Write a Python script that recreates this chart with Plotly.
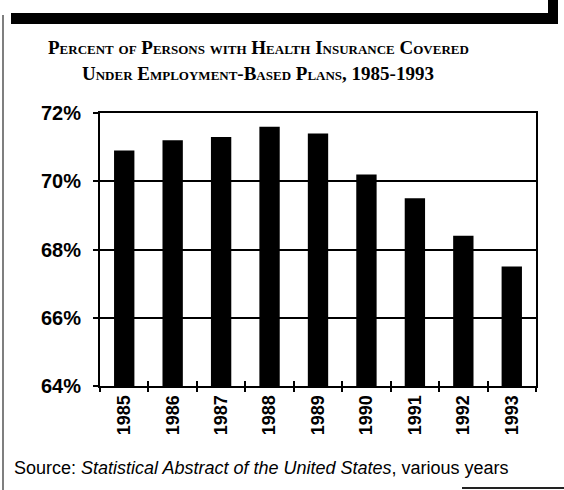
import plotly.graph_objects as go

years = ["1985", "1986", "1987", "1988", "1989", "1990", "1991", "1992", "1993"]
pct_employment = [70.9, 71.2, 71.3, 71.6, 71.4, 70.2, 69.5, 68.4, 67.5]
y_ticks = [64, 66, 68, 70, 72]
y_tick_labels = ["64%", "66%", "68%", "70%", "72%"]

title_line1 = "Percent of Persons with Health Insurance Covered"
title_line2 = "Under Employment-Based Plans, 1985-1993"
source_html = "Source: <i>Statistical Abstract of the United States</i>, various years"

W, H = 564, 490
L, R, T, B = 100, 28, 113, 104
pw, ph = W - L - R, H - T - B

def px_x(px):
    return (px - L) / pw

def px_y(py):
    return (H - B - py) / ph

fig = go.Figure()
fig.add_trace(go.Bar(x=years, y=pct_employment, marker=dict(color="black", line=dict(width=0)),
                     showlegend=False, hoverinfo="x+y"))
# invisible trace to carry the inside half of crossing x ticks
fig.add_trace(go.Scatter(x=years, y=pct_employment, xaxis="x2", mode="markers",
                         marker=dict(opacity=0), showlegend=False, hoverinfo="skip"))

fig.update_layout(
    width=W, height=H,
    margin=dict(l=L, r=R, t=T, b=B),
    paper_bgcolor="white", plot_bgcolor="white",
    bargap=0.58,
    xaxis=dict(type="category", range=[-0.5, 8.5], tickangle=-90,
               tickfont=dict(family="Liberation Sans, Arial, sans-serif", size=18, color="black", weight="bold"),
               showline=True, linecolor="black", linewidth=2, mirror=True,
               ticks="outside", ticklen=4, tickwidth=2, tickcolor="black",
               tickson="boundaries", showgrid=False, zeroline=False),
    xaxis2=dict(type="category", overlaying="x", side="bottom", range=[-0.5, 8.5],
                ticks="inside", ticklen=5, tickwidth=2, tickcolor="black",
                tickson="boundaries", showticklabels=False, showgrid=False,
                showline=False, zeroline=False),
    yaxis=dict(range=[64, 72], tickvals=y_ticks, ticktext=y_tick_labels,
               tickfont=dict(family="Liberation Sans, Arial, sans-serif", size=20, color="black", weight="bold"),
               showgrid=True, gridcolor="black", gridwidth=2,
               showline=True, linecolor="black", linewidth=2, mirror=True,
               ticks="outside", ticklen=5, tickwidth=2, tickcolor="black",
               zeroline=False, ticklabelstandoff=8),
)

title_font = dict(family="Liberation Serif, Times New Roman, serif", size=19, color="black",
                  weight="bold", variant="small-caps")
fig.add_annotation(x=px_x(258), y=px_y(48), xref="paper", yref="paper", text=title_line1,
                   showarrow=False, font=title_font, xanchor="center", yanchor="middle")
fig.add_annotation(x=px_x(258), y=px_y(73), xref="paper", yref="paper", text=title_line2,
                   showarrow=False, font=title_font, xanchor="center", yanchor="middle")
fig.add_annotation(x=px_x(12), y=px_y(468), xref="paper", yref="paper", text=source_html,
                   showarrow=False, xanchor="left", yanchor="middle",
                   font=dict(family="Liberation Sans, Arial, sans-serif", size=18, color="black"))

# decorative page frame
fig.add_shape(type="rect", xref="paper", yref="paper", x0=px_x(11), x1=px_x(558),
              y0=px_y(24), y1=px_y(13), fillcolor="black", line=dict(width=0), layer="above")
fig.add_shape(type="rect", xref="paper", yref="paper", x0=px_x(548), x1=px_x(558),
              y0=px_y(24), y1=px_y(0), fillcolor="black", line=dict(width=0), layer="above")
fig.add_shape(type="line", xref="paper", yref="paper", x0=px_x(3), x1=px_x(3),
              y0=px_y(15), y1=px_y(490), line=dict(color="#555555", width=1.5))
fig.add_shape(type="line", xref="paper", yref="paper", x0=px_x(462), x1=px_x(564),
              y0=px_y(488), y1=px_y(488), line=dict(color="#222222", width=2))

fig.write_html("out.html", config={"displayModeBar": False},
               post_script="document.body.style.margin='0';document.body.style.overflow='hidden';")
